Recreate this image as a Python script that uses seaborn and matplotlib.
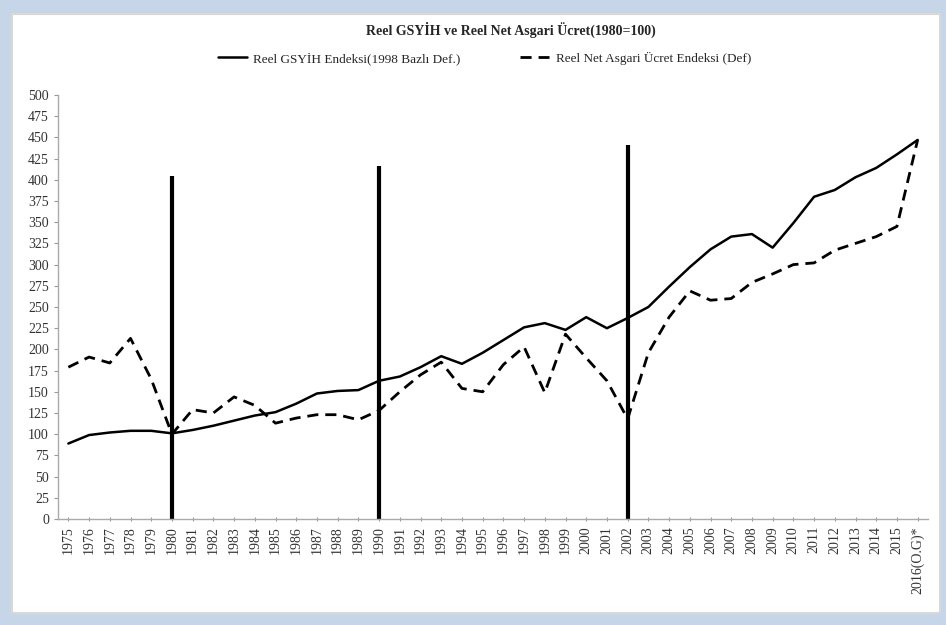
import pandas as pd
import seaborn as sns
import matplotlib.pyplot as plt
from matplotlib.patches import Rectangle

# data
years = ['1975', '1976', '1977', '1978', '1979', '1980', '1981', '1982', '1983', '1984',
         '1985', '1986', '1987', '1988', '1989', '1990', '1991', '1992', '1993', '1994',
         '1995', '1996', '1997', '1998', '1999', '2000', '2001', '2002', '2003', '2004',
         '2005', '2006', '2007', '2008', '2009', '2010', '2011', '2012', '2013', '2014',
         '2015', '2016(O.G)*']
gdp_index = [89, 99, 102, 104, 104, 101, 105, 110, 116, 122,
             126, 136, 148, 151, 152, 163, 168, 179, 192, 183,
             196, 211, 226, 231, 223, 238, 225, 237, 250, 274,
             297, 318, 333, 336, 320, 349, 380, 388, 403, 414,
             430, 447]
wage_index = [179, 191, 184, 213, 165, 100, 129, 125, 144, 134,
              113, 119, 123, 123, 117, 128, 150, 170, 185, 154,
              150, 182, 203, 149, 218, 190, 163, 118, 196, 238,
              269, 258, 260, 279, 289, 300, 302, 317, 325, 333,
              345, 447]
break_years = ['1980', '1990', '2002']
break_heights = [405, 416, 441]

gdp_label = 'Reel GSYİH Endeksi(1998 Bazlı Def.)'
wage_label = 'Reel Net Asgari Ücret Endeksi (Def)'

df = pd.DataFrame({'year': years, 'gdp': gdp_index, 'wage': wage_index})
df['pos'] = range(len(df))

sns.set_style('white')
plt.rcParams['font.family'] = ['Liberation Serif', 'DejaVu Serif']

fig = plt.figure(figsize=(9.46, 6.25), dpi=100)

# screenshot-like frame
fig.patches.append(Rectangle((0, 0), 1, 1, transform=fig.transFigure,
                             facecolor='#c7d5e8', edgecolor='none', zorder=-3))
fig.patches.append(Rectangle((12 / 946, 12 / 625), 928 / 946, 599 / 625,
                             transform=fig.transFigure, facecolor='white',
                             edgecolor='#d8d8d8', lw=1.5, zorder=-2))

ax = fig.add_axes([58 / 946, 106 / 625, 870 / 946, 424 / 625])
ax.set_facecolor('none')

sns.lineplot(data=df, x='pos', y='gdp', ax=ax, color='black', lw=1.8, label=gdp_label)
sns.lineplot(data=df, x='pos', y='wage', ax=ax, color='black', lw=2.0,
             dashes=False, label=wage_label)
ax.lines[1].set_dashes((4, 2.5))

for yr, h in zip(break_years, break_heights):
    ax.vlines(years.index(yr), 0, h, color='black', lw=3)

ax.set_xlim(-0.5, len(years) - 0.5)
ax.set_ylim(0, 500)
ax.set_yticks(range(0, 501, 25))
ax.set_xticks(df['pos'])
ax.set_xticklabels(years, rotation=90, fontsize=10, color='#333333')
ax.tick_params(axis='y', labelsize=10, labelcolor='#333333', length=3, color='#999999',
               direction='out', left=True)
ax.tick_params(axis='x', length=3, color='#999999', direction='inout', bottom=True)
ax.set_xlabel('')
ax.set_ylabel('')

for side in ['top', 'right']:
    ax.spines[side].set_visible(False)
for side in ['left', 'bottom']:
    ax.spines[side].set_color('#aaaaaa')
    ax.spines[side].set_linewidth(1)

ax.legend(loc='upper center', bbox_to_anchor=(0.49, 1.13), ncol=2, frameon=False,
          fontsize=9.5, handlelength=2.2, handletextpad=0.5, columnspacing=4.5)

fig.text(0.54, 0.952, 'Reel GSYİH ve Reel Net Asgari Ücret(1980=100)',
         ha='center', va='center', fontsize=10, fontweight='bold')

fig.savefig('out.png', dpi=100)
